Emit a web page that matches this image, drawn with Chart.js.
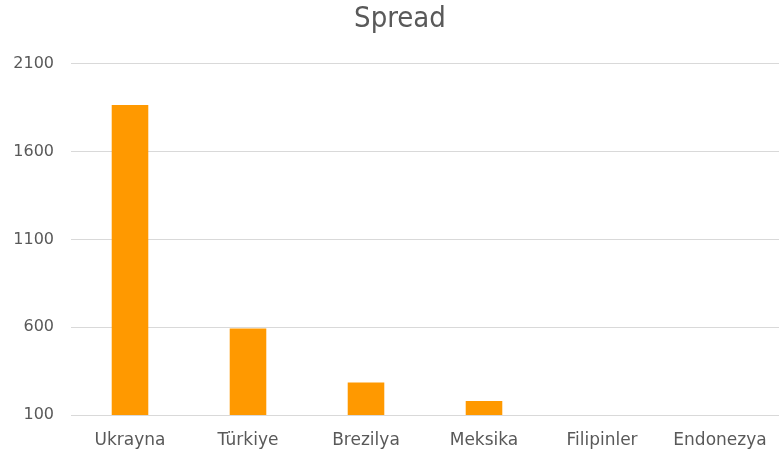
<!DOCTYPE html>
<html>
<head>
<meta charset="utf-8">
<script src="https://cdn.jsdelivr.net/npm/chart.js@4/dist/chart.umd.min.js"></script>
<style>
html,body{margin:0;padding:0;background:#fff;}
#wrap{width:779px;height:455px;position:relative;}
</style>
</head>
<body>
<div id="wrap"><canvas id="c"></canvas></div>
<script>
const categories = ["Ukrayna", "Türkiye", "Brezilya", "Meksika", "Filipinler", "Endonezya"];
const spreadValues = [1865, 592, 285, 180, 0, 0];
const yMin = 100;
const yMax = 2100;
const yStep = 500;
const chartTitle = "Spread";

const FONT = "'DejaVu Sans', sans-serif";
const TITLE_FONT = "'DejaVu Sans Condensed', 'DejaVu Sans', sans-serif";
const TXT = "#595959";

// shift the title block a bit to the right, as in the reference
const titleShift = {
  id: 'titleShift',
  afterLayout(chart) {
    if (chart.titleBlock) { chart.titleBlock.left += 21; }
  }
};

new Chart(document.getElementById('c'), {
  type: 'bar',
  data: {
    labels: categories,
    datasets: [{
      label: chartTitle,
      data: spreadValues,
      backgroundColor: '#FF9900',
      borderWidth: 0,
      categoryPercentage: 1.0,
      barPercentage: 0.31
    }]
  },
  plugins: [titleShift],
  options: {
    responsive: true,
    maintainAspectRatio: false,
    animation: false,
    layout: { padding: { left: 0, right: 0, top: 0, bottom: 0 } },
    plugins: {
      legend: { display: false },
      tooltip: { enabled: false },
      title: {
        display: true,
        text: chartTitle,
        color: TXT,
        font: { family: TITLE_FONT, size: 29, weight: 'normal' },
        padding: { top: 2, bottom: 27 }
      }
    },
    scales: {
      x: {
        grid: { display: false, drawTicks: false },
        border: { display: false },
        ticks: {
          color: TXT,
          font: { family: FONT, size: 17 },
          padding: 15,
          maxRotation: 0,
          autoSkip: false
        },
        afterFit: (s) => { s.height = 40; s.paddingLeft = 0; s.paddingRight = 0; }
      },
      y: {
        min: yMin,
        max: yMax,
        grid: { color: '#d9d9d9', lineWidth: 1, drawTicks: false },
        border: { display: false },
        ticks: {
          stepSize: yStep,
          color: TXT,
          font: { family: FONT, size: 16 },
          padding: 17,
          callback: (v) => String(v)
        },
        afterFit: (s) => { s.width = 71; s.paddingTop = 0; s.paddingBottom = 0; }
      }
    }
  }
});
</script>
</body>
</html>
